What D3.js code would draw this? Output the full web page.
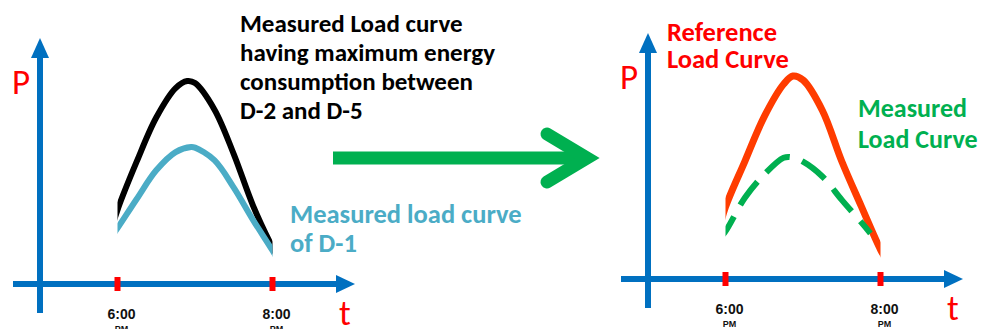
<!DOCTYPE html>
<html><head><meta charset="utf-8">
<script src="https://cdn.jsdelivr.net/npm/d3@7"></script>
<style>
html,body{margin:0;padding:0;background:#fff;}
svg{display:block;}
</style>
</head><body>
<svg id="chart" width="984" height="329"></svg>
<script>
// Evening load curves, power in relative units, time in hours (24h clock)
const hoursPeak = [17.9, 18.0, 18.25, 18.5, 18.75, 18.9, 19.0, 19.25, 19.5, 19.75, 20.0, 20.1];
const peakDaysLoad = [2.4, 3.65, 6.05, 8.2, 9.65, 10.0, 9.9, 8.6, 6.4, 3.85, 1.8, 1.1];

const hoursD1 = [17.9, 18.0, 18.25, 18.5, 18.75, 18.95, 19.0, 19.25, 19.5, 19.75, 20.0, 20.1];
const d1Load = [2.2, 2.75, 4.2, 5.6, 6.5, 6.75, 6.72, 6.1, 4.75, 3.15, 1.65, 1.0];

const hoursRef = [17.9, 18.0, 18.25, 18.5, 18.75, 18.87, 19.0, 19.25, 19.5, 19.75, 20.0, 20.1];
const referenceLoad = [2.2, 3.55, 5.8, 8.0, 9.6, 10.0, 9.8, 8.3, 5.8, 3.6, 1.45, 0.8];

const hoursMeas = [17.9, 18.0, 18.25, 18.5, 18.75, 18.85, 19.0, 19.25, 19.5, 19.75, 19.87];
const measuredLoad = [1.9, 2.35, 4.0, 5.15, 5.97, 6.0, 5.78, 5.05, 3.9, 2.8, 2.25];

const tickHours = [18, 20];
const tickLabels = ["6:00", "8:00"];
const tickSuffix = "PM";
const windowHours = [18, 20];

const leftNote = ["Measured Load curve", "having maximum energy", "consumption between", "D-2 and D-5"];
const d1Note = ["Measured load curve", "of D-1"];
const refNote = ["Reference", "Load Curve"];
const measNote = ["Measured", "Load Curve"];

const AXIS_BLUE = "#0070C0";
const RED = "#FF0000";
const GREEN = "#00B050";
const FONT = "Carlito, Lato, 'Open Sans', sans-serif";

const svg = d3.select("#chart");

// Shared scales: each panel is drawn around its own origin (5:00 PM, P = 0)
const x = d3.scaleLinear().domain([17, 21]).range([0, 310]);
const y = d3.scaleLinear().domain([0, 10]).range([0, -203]);

const line = d3.line()
  .x(d => x(d.h))
  .y(d => y(d.v))
  .curve(d3.curveCatmullRom.alpha(0.5));

const zip = (hs, vs) => hs.map((h, i) => ({h, v: vs[i]}));

svg.append("defs").append("clipPath").attr("id", "window")
  .append("rect")
  .attr("x", x(windowHours[0])).attr("y", -270)
  .attr("width", x(windowHours[1]) - x(windowHours[0])).attr("height", 300);

function drawPanel(ox, oy, curves) {
  const g = svg.append("g").attr("transform", `translate(${ox},${oy})`);

  // axes with arrowheads
  g.append("line").attr("x1", 0).attr("x2", 0).attr("y1", 29).attr("y2", -228)
    .attr("stroke", AXIS_BLUE).attr("stroke-width", 6);
  g.append("path").attr("d", "M0,-246L9,-226L-9,-226Z").attr("fill", AXIS_BLUE);
  g.append("line").attr("x1", -27).attr("x2", 299).attr("y1", 0).attr("y2", 0)
    .attr("stroke", AXIS_BLUE).attr("stroke-width", 6);
  g.append("path").attr("d", "M315,0L296,-9L296,9Z").attr("fill", AXIS_BLUE);

  // time ticks
  g.selectAll("rect.tick").data(tickHours).join("rect")
    .attr("class", "tick")
    .attr("x", d => x(d) - 3).attr("y", -7)
    .attr("width", 6).attr("height", 14)
    .attr("fill", RED);

  g.selectAll("text.tlab").data(tickLabels).join("text")
    .attr("class", "tlab")
    .attr("x", (d, i) => x(tickHours[i]) + 4).attr("y", 35)
    .attr("text-anchor", "middle")
    .attr("font-family", "'Liberation Sans', Arial, sans-serif")
    .attr("font-weight", "bold").attr("font-size", 14)
    .attr("fill", "#111").text(d => d);

  g.selectAll("text.tsuf").data(tickLabels).join("text")
    .attr("class", "tsuf")
    .attr("x", (d, i) => x(tickHours[i]) + 4).attr("y", 48)
    .attr("text-anchor", "middle")
    .attr("font-family", "'Liberation Sans', Arial, sans-serif")
    .attr("font-weight", "bold").attr("font-size", 9)
    .attr("fill", "#111").text(tickSuffix);

  // axis names
  g.append("text").attr("x", -28).attr("y", -190)
    .attr("font-family", FONT).attr("font-size", 35).attr("fill", RED).text("P");
  g.append("text").attr("x", 299).attr("y", 41)
    .attr("font-family", FONT).attr("font-size", 35).attr("fill", RED).text("t");

  // load curves, cut at the 6:00–8:00 PM window
  const cg = g.append("g").attr("clip-path", "url(#window)");
  curves.forEach(c => {
    cg.append("path")
      .attr("d", line(zip(c.hours, c.values)))
      .attr("fill", "none")
      .attr("stroke", c.color)
      .attr("stroke-width", c.width)
      .attr("stroke-dasharray", c.dash || null);
  });
  return g;
}

drawPanel(40, 284, [
  {hours: hoursPeak, values: peakDaysLoad, color: "#000000", width: 6},
  {hours: hoursD1, values: d1Load, color: "#4BACC6", width: 6}
]);

drawPanel(648, 279, [
  {hours: hoursRef, values: referenceLoad, color: "#FF3C00", width: 7},
  {hours: hoursMeas, values: measuredLoad, color: GREEN, width: 6, dash: "29 13"}
]);

// annotation blocks
function note(lines, xPos, y0, step, size, weight, color) {
  svg.append("text")
    .attr("font-family", FONT).attr("font-size", size)
    .attr("font-weight", weight).attr("fill", color)
    .selectAll("tspan").data(lines).join("tspan")
    .attr("x", xPos).attr("y", (d, i) => y0 + i * step)
    .text(d => d);
}
note(leftNote, 240, 32, 29, 25, "bold", "#000");
note(d1Note, 290, 223, 29, 26.5, "bold", "#4BACC6");
note(refNote, 667, 41, 27, 26.5, 600, RED);
note(measNote, 858, 117, 31, 26, 600, GREEN);

// transition arrow between the panels
const arrow = svg.append("g").attr("fill", "none").attr("stroke", GREEN).attr("stroke-width", 13);
arrow.append("line").attr("x1", 333).attr("x2", 585).attr("y1", 158).attr("y2", 158);
arrow.append("path").attr("d", "M547,134L587,158L547,182")
  .attr("stroke-linecap", "round").attr("stroke-linejoin", "miter");
</script>
</body></html>
